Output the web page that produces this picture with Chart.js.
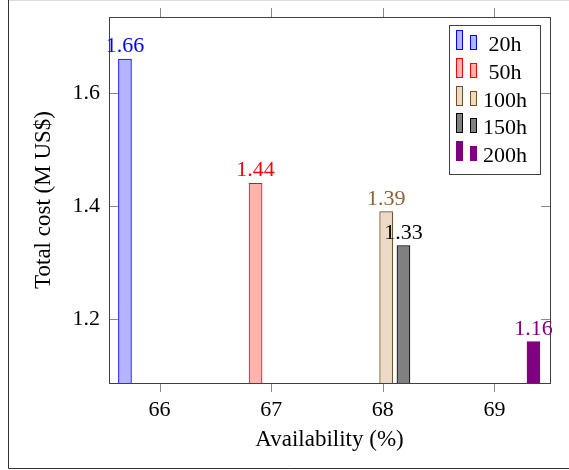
<!DOCTYPE html>
<html>
<head>
<meta charset="utf-8">
<script src="https://cdn.jsdelivr.net/npm/chart.js@4.4.0/dist/chart.umd.min.js"></script>
<style>
body { margin: 0; background: #fff; }
#wrap { position: relative; width: 569px; height: 470px; }
</style>
</head>
<body>
<div id="wrap"><canvas id="chart" width="569" height="470"></canvas></div>
<script>
// data
const seriesNames = ['20h', '50h', '100h', '150h', '200h'];
const availability = [65.69, 66.86, 68.03, 68.185, 69.35];
const totalCost = [1.66, 1.44, 1.39, 1.33, 1.16];
const xTicks = [66, 67, 68, 69];
const yTicks = [1.2, 1.4, 1.6];

// pgfplots bar cycle colours
const lineColors = ['#0000ff', '#ff0000', '#734d26', '#000000', '#800080'];
const fillColors = ['#b3b3ff', '#ffb3b3', '#ecd9c6', '#808080', '#800080'];
const labelColors = ['#0000ff', '#ff0000', '#8c6239', '#000000', '#800080'];

const FONT = '"Liberation Serif", "Times New Roman", serif';
const font = { family: FONT, size: 22 };
const titleFont = { family: FONT, size: 23 };

const datasets = seriesNames.map((name, i) => ({
    label: name,
    data: [{ x: availability[i], y: totalCost[i] }],
    backgroundColor: fillColors[i],
    borderColor: lineColors[i],
    borderWidth: 1,
    barThickness: 13,
    grouped: false,
}));

const decorations = {
    id: 'decorations',
    beforeDraw(chart) {
        const ctx = chart.ctx;
        ctx.save();
        ctx.strokeStyle = '#dddddd';
        ctx.lineWidth = 1;
        ctx.beginPath();
        ctx.moveTo(8, 0.5);
        ctx.lineTo(569, 0.5);
        ctx.stroke();
        ctx.strokeStyle = '#333333';
        ctx.beginPath();
        ctx.moveTo(8.5, 0);
        ctx.lineTo(8.5, 468.5);
        ctx.lineTo(569, 468.5);
        ctx.stroke();
        ctx.restore();
    },
    afterDatasetsDraw(chart) {
        const ctx = chart.ctx;
        const { left, right, top, bottom } = chart.chartArea;
        const xs = chart.scales.x;
        const ys = chart.scales.y;
        ctx.save();

        // tick marks
        ctx.strokeStyle = '#8a8a8a';
        ctx.lineWidth = 1;
        ctx.beginPath();
        xTicks.forEach((v) => {
            const px = Math.round(xs.getPixelForValue(v)) + 0.5;
            ctx.moveTo(px, bottom);
            ctx.lineTo(px, bottom + 9);
            ctx.moveTo(px, top);
            ctx.lineTo(px, top - 9);
        });
        yTicks.forEach((v) => {
            const py = Math.round(ys.getPixelForValue(v)) + 0.5;
            ctx.moveTo(left, py);
            ctx.lineTo(left + 9, py);
            ctx.moveTo(right, py);
            ctx.lineTo(right - 9, py);
        });
        ctx.stroke();

        // axis box
        ctx.strokeStyle = '#404040';
        ctx.strokeRect(Math.round(left) + 0.5, Math.round(top) + 0.5,
            Math.round(right - left), Math.round(bottom - top));

        // value labels above bars
        ctx.font = '22px ' + FONT;
        ctx.textAlign = 'center';
        ctx.textBaseline = 'alphabetic';
        chart.data.datasets.forEach((ds, i) => {
            const bar = chart.getDatasetMeta(i).data[0];
            ctx.fillStyle = labelColors[i];
            ctx.fillText(totalCost[i].toFixed(2), bar.x, bar.y - 7);
        });

        // legend with two small bars per entry
        const lx = 449.5, ly = 25.5, lw = 91, lh = 149;
        ctx.fillStyle = '#ffffff';
        ctx.fillRect(lx, ly, lw, lh);
        ctx.strokeStyle = '#404040';
        ctx.strokeRect(lx, ly, lw, lh);
        seriesNames.forEach((name, i) => {
            const base = Math.round(49 + 27.75 * i) + 0.5;
            ctx.fillStyle = fillColors[i];
            ctx.strokeStyle = lineColors[i];
            ctx.fillRect(456.5, base - 19, 6, 19);
            ctx.strokeRect(456.5, base - 19, 6, 19);
            ctx.fillRect(470.5, base - 14, 6, 14);
            ctx.strokeRect(470.5, base - 14, 6, 14);
            ctx.fillStyle = '#000000';
            ctx.textAlign = 'center';
            ctx.fillText(name, 505, base + 1);
        });
        ctx.restore();
    }
};

new Chart(document.getElementById('chart'), {
    type: 'bar',
    data: { datasets },
    options: {
        responsive: false,
        animation: false,
        layout: { padding: { top: 17, right: 19, left: 0, bottom: 0 } },
        plugins: { legend: { display: false }, tooltip: { enabled: false } },
        scales: {
            x: {
                type: 'linear',
                min: 65.547,
                max: 69.498,
                offset: false,
                afterBuildTicks: (s) => { s.ticks = xTicks.map((v) => ({ value: v })); },
                afterFit: (s) => {
                    s.height = 87;
                    s.paddingLeft = 0;
                    s.paddingRight = 0;
                },
                grid: { display: false, drawTicks: false },
                border: { display: false },
                ticks: { padding: 14, color: '#000', font },
                title: {
                    display: true, text: 'Availability (%)', color: '#000', font: titleFont,
                    padding: { top: 0, bottom: 16 }
                }
            },
            y: {
                type: 'linear',
                min: 1.0867,
                max: 1.7345,
                afterBuildTicks: (s) => { s.ticks = yTicks.map((v) => ({ value: v })); },
                afterFit: (s) => {
                    s.width = 109;
                    s.paddingTop = 0;
                    s.paddingBottom = 0;
                },
                grid: { display: false, drawTicks: false },
                border: { display: false },
                ticks: { padding: 9, color: '#000', font, callback: (v) => v.toFixed(1) },
                title: {
                    display: true, text: 'Total cost (M US$)', color: '#000', font: titleFont,
                    padding: { top: 30, bottom: 0 }
                }
            }
        }
    },
    plugins: [decorations]
});
</script>
</body>
</html>
